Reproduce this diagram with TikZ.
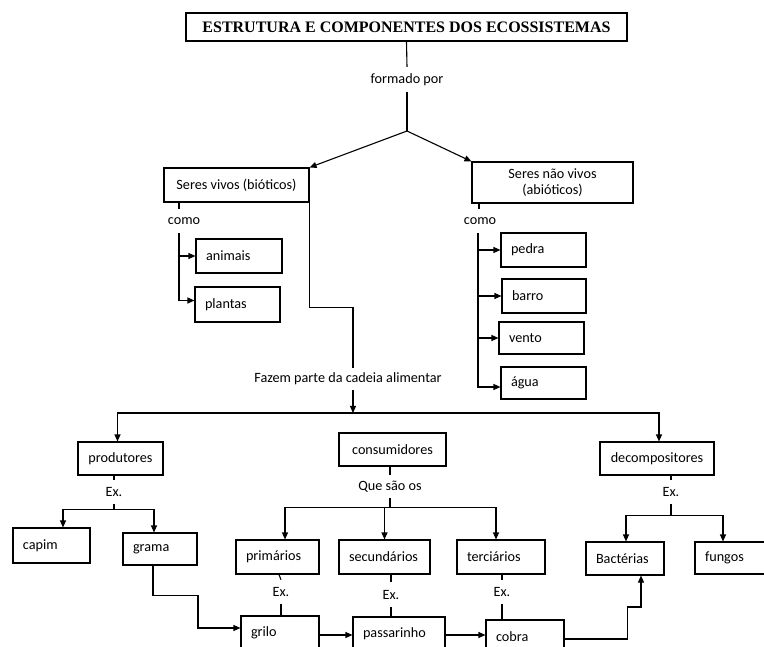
\documentclass[tikz,border=0pt]{standalone}
\usepackage{fontspec}
\setmainfont{Carlito}
\newfontfamily\titlefont{Liberation Serif}
\usetikzlibrary{arrows.meta}
\begin{document}
\begin{tikzpicture}[x=1pt,y=-1pt,
  every node/.style={font=\fontsize{14.2}{16}\selectfont},
  >={Triangle[length=7pt,width=6pt]},
  conn/.style={line width=1.1pt},
  box/.style={draw, line width=1.1pt, inner ysep=0pt, inner xsep=10pt, align=left},
  cbox/.style={draw, line width=1.1pt, inner sep=0pt, align=center},
  lbl/.style={inner xsep=2pt, inner ysep=0pt, minimum height=24pt},
  titlebox/.style={draw, line width=1.4pt, inner sep=0pt, minimum width=441pt, minimum height=28pt,
    font=\titlefont\bfseries\fontsize{16}{18}\selectfont}]
\fill[white] (0,0) rectangle (764,647);
\clip (0,0) rectangle (764,647);

% title
\node[titlebox] (title) at (406.5,27) {ESTRUTURA E COMPONENTES DOS ECOSSISTEMAS};
\node[lbl, minimum height=25pt] (formado) at (407,79.5) {formado por};
\coordinate (split) at (407,131);

% main boxes
\node[cbox, minimum width=145pt, minimum height=34pt] (vivos) at (236.5,185) {Seres vivos (bióticos)};
\node[cbox, minimum width=161pt, minimum height=41pt] (naovivos) at (552.5,182.5) {Seres não vivos\\(abióticos)};

% bioticos
\node[lbl] (comoL) at (184,221) {como};
\node[box, text width=66pt, minimum height=34pt] (animais) at (239,256) {animais};
\node[box, text width=65pt, minimum height=35pt] (plantas) at (237.5,304.5) {plantas};

% abioticos
\node[lbl] (comoR) at (480,221) {como};
\node[box, text width=65pt, minimum height=34pt] (pedra) at (543.5,250) {pedra};
\node[box, text width=64pt, minimum height=34pt] (barro) at (544,296) {barro};
\node[box, text width=65pt, minimum height=32pt] (vento) at (541.5,338) {vento};
\node[box, text width=65pt, minimum height=32pt] (agua) at (543.5,383) {água};

% cadeia alimentar
\node[lbl, minimum height=22pt] (fazem) at (348,379) {Fazem parte da cadeia alimentar};
\coordinate (bus) at (353,413);
\node[cbox, minimum width=85pt, minimum height=33pt] (produtores) at (120.5,458.5) {produtores};
\node[cbox, minimum width=107pt, minimum height=33pt] (consumidores) at (392.5,449.5) {consumidores};
\node[cbox, minimum width=114pt, minimum height=33pt] (decompositores) at (657,458.5) {decompositores};

% produtores
\node[lbl] (exP) at (114,492) {Ex.};
\node[box, text width=57pt, minimum height=35pt] (capim) at (51.5,545.5) {capim};
\node[box, text width=54pt, minimum height=32pt] (grama) at (160,549) {grama};

% consumidores
\node[lbl, minimum height=23pt] (que) at (390,486.5) {Que são os};
\node[box, text width=63pt, minimum height=34pt] (primarios) at (277.5,557) {primários};
\node[box, text width=71pt, minimum height=34pt] (secundarios) at (384.5,557) {secundários};
\node[box, text width=68pt, minimum height=34pt] (terciarios) at (501,557) {terciários};
\node[lbl] (exA) at (281,592) {Ex.};
\node[lbl, minimum height=25pt] (exB) at (391,594.5) {Ex.};
\node[lbl] (exC) at (502,592) {Ex.};
\node[box, text width=58pt, minimum height=34pt] (grilo) at (280,633) {grilo};
\node[box, text width=72pt, minimum height=34pt] (passarinho) at (399,634) {passarinho};
\node[box, text width=58pt, minimum height=34pt] (cobra) at (525,637) {cobra};

% decompositores
\node[lbl] (exD) at (671,492) {Ex.};
\node[box, text width=58pt, minimum height=33pt] (bacterias) at (625,558.5) {Bactérias};
\node[box, text width=60pt, minimum height=32pt] (fungos) at (735,558) {fungos};

% ---- connectors ----
\draw[conn] (title.south) -- (formado.north);
\draw[conn] (formado.south) -- (split);
\draw[conn,->] (split) -- (vivos.north east);
\draw[conn,->] (split) -- (naovivos.north west);

% bioticos
\draw[conn] ([xshift=-5pt]comoL.north) -- ([xshift=-5pt]comoL.north |- vivos.south);
\draw[conn,->] ([xshift=-5pt]comoL.south) |- ([yshift=4pt]plantas.west);
\draw[conn,->] ([xshift=-5pt]comoL.south |- animais.west) -- (animais.west);

% abioticos
\draw[conn] ([xshift=-1pt]comoR.north) -- ([xshift=-1pt]comoR.north |- naovivos.south);
\draw[conn,->] ([xshift=-2pt]comoR.south) |- ([yshift=-4pt]agua.west);
\draw[conn,->] ([xshift=-2pt]comoR.south |- pedra.west) -- (pedra.west);
\draw[conn,->] ([xshift=-2pt]comoR.south |- barro.west) -- (barro.west);
\draw[conn,->] ([xshift=-2pt]comoR.south |- vento.west) -- (vento.west);

% to cadeia alimentar
\draw[conn] (vivos.south east) -- ++(0,105) -| ([xshift=5pt]fazem.north);
\draw[conn,->] ([xshift=5pt]fazem.south) -- (bus);
\draw[conn,->] (bus) -| ([xshift=-3pt]produtores.north);
\draw[conn,->] (bus) -| ([xshift=2pt]decompositores.north);

% produtores
\draw[conn] (exP.north) -- (exP.north |- produtores.south);
\draw[conn] (exP.south) -- ++(0,5) coordinate (jP);
\draw[conn,->] (jP) -| ([xshift=11.5pt]capim.north);
\draw[conn,->] (jP) -| ([xshift=-6pt]grama.north);
\draw[conn,->] ([xshift=-7pt]grama.south) -- ++(0,30) -- ++(45,0) |- ([yshift=5pt]grilo.west);

% consumidores
\draw[conn] (que.north) -- (que.north |- consumidores.south);
\draw[conn] (que.south) -- ++(0,9) coordinate (jC);
\draw[conn,->] (jC) -| ([xshift=7.5pt]primarios.north);
\draw[conn,->] (jC) -| (secundarios.north);
\draw[conn,->] (jC) -| ([xshift=-5pt]terciarios.north);
\draw[conn] (exA.north) -- ([xshift=-2pt]exA.north |- primarios.south);
\draw[conn] (exA.south) -- (exA.south |- grilo.north);
\draw[conn] (exB.north) -- (exB.north |- secundarios.south);
\draw[conn] (exB.south) -- (exB.south |- passarinho.north);
\draw[conn] (exC.north) -- (exC.north |- terciarios.south);
\draw[conn] (exC.south) -- (exC.south |- cobra.north);
\draw[conn,->] ([yshift=-2pt]grilo.east) -- ([yshift=-2pt]grilo.east -| passarinho.west);
\draw[conn,->] ([yshift=-1pt]passarinho.east) -- ([yshift=-1pt]passarinho.east -| cobra.west);
\draw[conn,->] ([yshift=-2pt]cobra.east) -- ++(63,0) -- ++(0,-32) -| ([xshift=16pt]bacterias.south);

% decompositores
\draw[conn] (exD.north) -- (exD.north |- decompositores.south);
\draw[conn] (exD.south) -- ++(0,11) coordinate (jD);
\draw[conn,->] (jD) -| ([xshift=1pt]bacterias.north);
\draw[conn,->] (jD) -| ([xshift=-12pt]fungos.north);
\end{tikzpicture}
\end{document}
